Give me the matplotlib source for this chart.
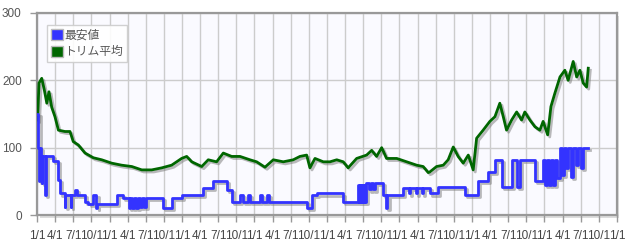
import matplotlib
matplotlib.use("Agg")
from matplotlib import pyplot as plt
from matplotlib.patches import Patch, Rectangle
import matplotlib.patheffects as pe

# x is measured in quarters from the first 1/1 tick
tick_labels = ["1/1", "4/1", "7/1", "10/1"] * 8 + ["1/1"]

trim_x = [0.03, 0.11, 0.26, 0.40, 0.54, 0.66, 0.81, 0.99, 1.18, 1.54, 1.82, 2.00,
          2.28, 2.65, 3.11, 3.57, 4.12, 4.67, 5.23, 5.78, 6.33, 6.88, 7.43, 7.98,
          8.26, 8.54, 9.09, 9.45, 9.91, 10.28, 10.74, 11.20, 11.75, 12.12, 12.58,
          13.04, 13.59, 14.14, 14.51, 14.88, 15.06, 15.34, 15.80, 16.17, 16.54,
          16.90, 17.17, 17.64, 18.19, 18.47, 18.74, 19.02, 19.29, 19.85, 20.40,
          20.95, 21.31, 21.59, 21.68, 22.05, 22.42, 22.69, 22.97, 23.24, 23.52,
          23.80, 24.07, 24.26, 24.62, 24.99, 25.27, 25.54, 25.73, 25.91, 26.19,
          26.47, 26.74, 26.92, 27.20, 27.48, 27.75, 27.93, 28.18, 28.36, 28.58,
          28.86, 29.13, 29.31, 29.59, 29.78, 29.96, 30.14, 30.33, 30.42]
trim_y = [141, 196, 203, 186, 166, 183, 160, 146, 126, 124, 124, 109,
          104, 92, 85, 82, 77, 74, 72, 67, 67, 70, 74, 84,
          87, 79, 72, 82, 79, 92, 87, 87, 82, 79, 71,
          82, 79, 82, 87, 89, 70, 84, 79, 79, 82,
          79, 70, 84, 89, 96, 87, 100, 84, 84, 79,
          74, 72, 63, 64, 72, 74, 82, 101, 87, 77,
          89, 67, 114, 126, 139, 146, 166, 146, 126, 141,
          153, 141, 153, 141, 131, 126, 139, 119, 161, 181,
          205, 215, 200, 228, 205, 215, 196, 190, 218]

low_x = [0.00, 0.08, 0.13, 0.15, 0.22, 0.28, 0.30, 0.44, 0.47, 0.88, 1.16, 1.27,
         1.54, 1.57, 1.85, 1.88, 2.10, 2.21, 2.65, 2.84, 3.09, 3.28, 3.31, 4.41,
         4.74, 5.05, 5.13, 5.24, 5.35, 5.46, 5.57, 5.68, 5.79, 5.90, 6.01, 6.95,
         7.45, 8.00, 9.16, 9.71, 10.48, 10.76, 11.20, 11.37, 11.64, 11.75, 12.30,
         12.41, 12.69, 12.80, 14.90, 15.17, 15.45, 16.88, 17.71, 17.77, 17.82,
         17.88, 17.93, 17.99, 18.04, 18.10, 18.15, 18.32, 18.43, 18.54, 18.65,
         19.09, 19.26, 19.34, 20.19, 20.52, 20.58, 20.91, 20.97, 21.24, 21.30,
         21.68, 22.12, 23.61, 24.33, 24.88, 25.27, 25.66, 26.21, 26.48, 26.65,
         27.48, 27.92, 28.03, 28.14, 28.25, 28.36, 28.47, 28.58, 28.69, 28.86,
         28.97, 29.08, 29.19, 29.30, 29.46, 29.59, 29.75, 29.86, 30.03, 30.14,
         30.42]
low_y = [150, 100, 50, 100, 88, 48, 88, 30, 88, 80, 52, 32,
         12, 30, 12, 30, 37, 30, 20, 17, 30, 10, 17, 30,
         25, 10, 25, 10, 25, 10, 25, 12, 25, 12, 25, 10,
         25, 30, 40, 50, 37, 20, 30, 20, 30, 20, 30,
         20, 30, 20, 10, 30, 32, 20, 45, 20, 45,
         20, 45, 20, 45, 20, 48, 38, 48, 38, 48,
         30, 10, 30, 40, 32, 40, 32, 40, 32, 40,
         32, 42, 30, 50, 64, 82, 42, 82, 42, 82,
         50, 82, 45, 82, 45, 82, 45, 82, 55, 100,
         60, 100, 70, 100, 57, 100, 75, 100, 70, 100,
         100]

fig = plt.figure(figsize=(6.34, 2.45), dpi=100)
ax = fig.add_axes([0.0584, 0.1224, 0.9146, 0.8246])
ax.set_facecolor("#fafaff")

# drop shadow of the frame
fig.patches.append(Rectangle((0.0584 + 0.004, 0.1224 - 0.012), 0.9146, 0.8246,
                             transform=fig.transFigure, facecolor="#dddddd",
                             edgecolor="none", zorder=-1))

shadow = [pe.SimpleLineShadow(offset=(1.5, -1.5), shadow_color="#777777", alpha=0.5),
          pe.Normal()]
ax.plot(trim_x, trim_y, color="#006600", lw=2, path_effects=shadow, zorder=3)
ax.step(low_x, low_y, where="post", color="#3333ff", lw=2, path_effects=shadow, zorder=4)

ax.set_xlim(0, 32)
ax.set_ylim(0, 300)
ax.set_xticks(range(len(tick_labels)))
ax.set_xticklabels(tick_labels, fontsize=8.5, color="#444444", family="Liberation Sans")
ax.set_yticks([0, 100, 200, 300])
ax.set_yticklabels(["0", "100", "200", "300"], fontsize=8.5, color="#555555",
                   family="Liberation Sans")
ax.tick_params(axis="both", length=5, width=1, color="#999999", pad=6)
ax.grid(True, color="#cccccc", lw=1)
ax.set_axisbelow(True)
for side in ["left", "bottom", "right", "top"]:
    ax.spines[side].set_color("#999999")
    ax.spines[side].set_linewidth(1.6)

handles = [Patch(facecolor="#3333ff", edgecolor="#bbbbbb", label="最安値"),
           Patch(facecolor="#006600", edgecolor="#bbbbbb", label="トリム平均")]
leg = ax.legend(handles=handles, loc="upper left", bbox_to_anchor=(0.018, 0.94),
                prop={"family": ["Noto Sans CJK JP", "DejaVu Sans"], "size": 8.5},
                handlelength=1.0, handleheight=1.1, handletextpad=0.15,
                labelspacing=0.3, borderpad=0.3, fancybox=False, framealpha=0.9,
                edgecolor="#cccccc", labelcolor="#555555", borderaxespad=0)

fig.savefig("out.png", dpi=100)
